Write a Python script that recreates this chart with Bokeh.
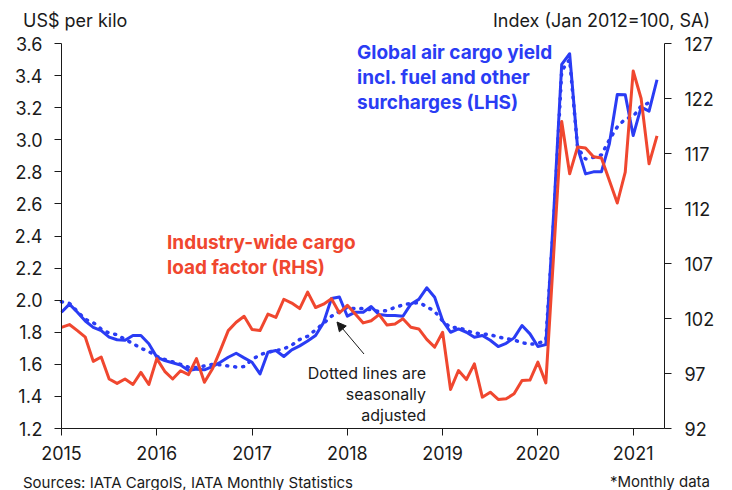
import numpy as np
from bokeh.plotting import figure
from bokeh.models import Range1d, LinearAxis, FixedTicker, Label, Arrow, NormalHead, ColumnDataSource
from bokeh.embed import file_html
from bokeh.resources import INLINE

# ---------------- data (monthly, from Jan 2015) ----------------
start_year = 2015
yield_usd = [1.925, 1.975, 1.925, 1.87, 1.83, 1.81, 1.77, 1.753, 1.75, 1.78, 1.78, 1.728,
             1.645, 1.623, 1.61, 1.595, 1.561, 1.57, 1.566, 1.586, 1.613, 1.644, 1.669, 1.64,
             1.613, 1.54, 1.675, 1.686, 1.649, 1.69, 1.715, 1.745, 1.78, 1.86, 2.01, 2.02,
             1.90, 1.925, 1.925, 1.96, 1.91, 1.905, 1.905, 1.90, 1.975, 2.005, 2.077, 2.018,
             1.873, 1.80, 1.821, 1.80, 1.769, 1.78, 1.75, 1.711, 1.731, 1.765, 1.842, 1.79,
             1.711, 1.723, 2.55, 3.47, 3.536, 2.95, 2.787, 2.80, 2.80, 2.975, 3.282, 3.28,
             3.026, 3.203, 3.178, 3.374]
yield_sa = [1.99, 1.98, 1.93, 1.88, 1.86, 1.82, 1.795, 1.785, 1.755, 1.73, 1.70, 1.68,
            1.65, 1.63, 1.615, 1.60, 1.582, 1.58, 1.59, 1.60, 1.597, 1.59, 1.583, 1.586,
            1.63, 1.66, 1.676, 1.686, 1.696, 1.72, 1.755, 1.775, 1.815, 1.855, 1.90, 1.93,
            1.955, 1.946, 1.948, 1.94, 1.93, 1.935, 1.955, 1.97, 1.98, 1.985, 1.96, 1.93,
            1.87, 1.83, 1.83, 1.81, 1.795, 1.79, 1.785, 1.77, 1.76, 1.752, 1.735, 1.725,
            1.73, 1.75, 2.5, 3.43, 3.50, 2.95, 2.88, 2.89, 2.905, 3.0, 3.08, 3.13,
            3.145, 3.21, 3.23]
load_factor = [101.2, 101.45, 100.9, 100.3, 98.1, 98.5, 96.5, 96.1, 96.5, 96.0, 97.1, 96.0,
               98.35, 97.2, 96.5, 97.25, 96.9, 98.35, 96.2, 97.4, 99.1, 100.9, 101.66, 102.2,
               101.0, 100.9, 102.4, 102.1, 103.75, 103.4, 102.9, 104.4, 103.0, 103.3, 103.8, 102.5,
               103.2, 102.4, 101.6, 101.8, 102.35, 101.4, 101.5, 101.97, 101.2, 101.05, 100.1, 99.4,
               100.75, 95.55, 97.27, 96.45, 97.88, 94.85, 95.3, 94.64, 94.7, 95.15, 96.36, 96.4,
               98.03, 96.15, 108.0, 119.9, 115.15, 117.6, 117.5, 116.7, 116.6, 114.55, 112.5, 115.3,
               124.5, 122.0, 116.06, 118.6]

x_ticks = [2015, 2016, 2017, 2018, 2019, 2020, 2021]
x_labels = ["2015", "2016", "2017", "2018", "2019", "2020", "2021"]
left_ticks = [1.2, 1.4, 1.6, 1.8, 2.0, 2.2, 2.4, 2.6, 2.8, 3.0, 3.2, 3.4, 3.6]
left_labels = ["1.2", "1.4", "1.6", "1.8", "2.0", "2.2", "2.4", "2.6", "2.8", "3.0", "3.2", "3.4", "3.6"]
right_ticks = [92, 97, 102, 107, 112, 117, 122, 127]
right_labels = ["92", "97", "102", "107", "112", "117", "122", "127"]

# ---------------- styling / layout ----------------
BLUE = "#2a3cf4"
RED = "#f0472f"
INK = "#1a1a1a"
FONT = "Inter"
W, H = 732, 490
FL, FR, FT, FB = 61, 664, 43, 428          # axis box in page pixels
X0 = x_ticks[0]
SX = 95.28                                  # px per year
X1 = X0 + (FR - FL) / SX
YL0, YL1 = left_ticks[0], left_ticks[-1]
YR0, YR1 = right_ticks[0], right_ticks[-1]
SYL = (FB - FT) / (YL1 - YL0)
SYR = (FB - FT) / (YR1 - YR0)


def px2x(px):
    return X0 + (px - FL) / SX


def py2y(py):
    return YL1 - (py - FT) / SYL


def py2r(py):
    return YR1 - (py - FT) / SYR


months = lambda n: start_year + np.arange(n) / 12.0
src_y = ColumnDataSource(dict(x=months(len(yield_usd)), y=yield_usd))
src_sa = ColumnDataSource(dict(x=months(len(yield_sa)), y=yield_sa))
src_lf = ColumnDataSource(dict(x=months(len(load_factor)), y=load_factor))

# the frame fills the whole canvas; axes are pinned at the chart box edges
p = figure(width=W, height=H, x_range=Range1d(px2x(0), px2x(W)), y_range=Range1d(py2y(H), py2y(0)),
           output_backend="svg", toolbar_location=None, min_border=0,
           x_axis_location=None, y_axis_location=None)
p.extra_y_ranges = {"rhs": Range1d(py2r(H), py2r(0))}
p.outline_line_color = None
p.grid.visible = False
p.background_fill_color = "white"
p.border_fill_color = "white"

xa = LinearAxis(ticker=FixedTicker(ticks=x_ticks), fixed_location=YL0, bounds=(X0, X1),
                major_label_overrides={t: s for t, s in zip(x_ticks, x_labels)})
ya = LinearAxis(ticker=FixedTicker(ticks=left_ticks), fixed_location=X0, bounds=(YL0, YL1),
                major_label_overrides={t: s for t, s in zip(left_ticks, left_labels)})
rax = LinearAxis(y_range_name="rhs", ticker=FixedTicker(ticks=right_ticks), fixed_location=X1,
                 bounds=(YR0, YR1),
                 major_label_overrides={t: s for t, s in zip(right_ticks, right_labels)})
p.add_layout(xa, "below")
p.add_layout(ya, "left")
p.add_layout(rax, "right")

for ax in (xa, ya, rax):
    ax.axis_line_color = INK
    ax.major_tick_line_color = INK
    ax.minor_tick_line_color = None
    ax.major_tick_in = 0
    ax.major_tick_out = 7
    ax.major_label_text_font = FONT
    ax.major_label_text_font_size = "18px"
    ax.major_label_text_color = INK
xa.major_label_standoff = 10
ya.major_label_standoff = 12
rax.major_label_standoff = 13

p.line("x", "y", source=src_sa, line_color=BLUE, line_width=3.5, line_dash="1 7", line_cap="round")
p.line("x", "y", source=src_y, line_color=BLUE, line_width=3, line_join="round")
p.line("x", "y", source=src_lf, y_range_name="rhs", line_color=RED, line_width=3, line_join="round")


def lab(text, px, py_mid, size, color=INK, align="left", bold=False):
    # py_mid: vertical centre of the capital letters, in page pixels
    p.add_layout(Label(x=px2x(px), y=py2y(py_mid), text=text, text_font=FONT,
                       text_font_size=f"{size}px", text_color=color, text_align=align,
                       text_baseline="middle",
                       text_font_style="bold" if bold else "normal"))


lab("US$ per kilo", 22.5, 20, 18)
lab("Index (Jan 2012=100, SA)", 709.5, 19.5, 18, align="right")
for t, m in zip(["Global air cargo yield", "incl. fuel and other", "surcharges (LHS)"], [51.7, 76.5, 101.5]):
    lab(t, 356.5, m, 19, color=BLUE, bold=True)
for t, m in zip(["Industry-wide cargo", "load factor (RHS)"], [242.2, 267.2]):
    lab(t, 166.5, m, 19, color=RED, bold=True)
for t, m in zip(["Dotted lines are", "seasonally", "adjusted"], [372.5, 393.5, 414.5]):
    lab(t, 425.5, m, 16, align="right")
lab("Sources: IATA CargoIS, IATA Monthly Statistics", 22.5, 481.5, 15)
lab("*Monthly data", 709.5, 480.5, 15, align="right")

p.add_layout(Arrow(end=NormalHead(size=9, fill_color=INK, line_color=INK, line_width=1),
                   x_start=px2x(363.5), y_start=py2y(353.5),
                   x_end=px2x(336.5), y_end=py2y(321.5),
                   line_color=INK, line_width=1))

open("out.html", "w").write(file_html(p, INLINE))
